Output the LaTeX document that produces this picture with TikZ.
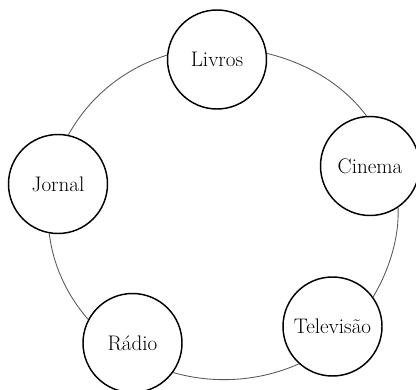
\documentclass[tikz,border=0pt]{standalone}
\begin{document}
\begin{tikzpicture}[x=0.75pt,y=0.75pt,
  medium/.style={circle,draw=black,line width=1.1pt,fill=white,minimum size=74.25pt,inner sep=0pt,
    font=\fontsize{15.8}{18}\selectfont,text=black},
  ring/.style={draw=black!65,line width=0.65pt}]
\useasboundingbox (0,0) rectangle (416,389);
\node[medium] (L) at (217,329.5) {Livros};
\node[medium] (C) at (370,223) {Cinema};
\node[medium] (T) at (332.5,62.5) {Televisão};
\node[medium] (R) at (132.5,46) {Rádio};
\node[medium] (J) at (58,205) {Jornal};
\draw[ring] (L.7.4) .. controls +(40.1,-9.8) and +(-24.0,32.0) .. (C.94.8);
\draw[ring] (C.-56.3) .. controls +(1.2,-30.6) and +(15.8,26.7) .. (T.36.5);
\draw[ring] (T.-132.6) .. controls +(-39.1,-17.5) and +(41.4,-11.9) .. (R.-36.5);
\draw[ring] (R.152.7) .. controls +(-21.5,24.8) and +(3.8,-31.9) .. (J.-100.4);
\draw[ring] (J.78) .. controls +(21.0,38.1) and +(-43.1,-13.6) .. (L.175.9);
\end{tikzpicture}
\end{document}
